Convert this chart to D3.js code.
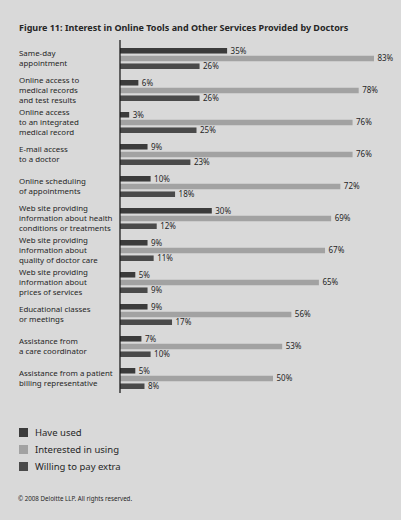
<!DOCTYPE html>
<html>
<head>
<meta charset="utf-8">
<script src="https://cdn.jsdelivr.net/npm/d3@7/dist/d3.min.js"></script>
<style>
  html, body { margin: 0; padding: 0; background: #d9d9d9; }
  svg { display: block; }
  text { font-family: "Noto Sans", "Open Sans", sans-serif; fill: #262626; }
</style>
</head>
<body>
<script>
// Survey categories (label lines) and the three response series, in percent
const categories = [
  ["Same-day", "appointment"],
  ["Online access to", "medical records", "and test results"],
  ["Online access", "to an integrated", "medical record"],
  ["E-mail access", "to a doctor"],
  ["Online scheduling", "of appointments"],
  ["Web site providing", "information about health", "conditions or treatments"],
  ["Web site providing", "information about", "quality of doctor care"],
  ["Web site providing", "information about", "prices of services"],
  ["Educational classes", "or meetings"],
  ["Assistance from", "a care coordinator"],
  ["Assistance from a patient", "billing representative"]
];
const haveUsed      = [35, 6, 3, 9, 10, 30, 9, 5, 9, 7, 5];
const interested    = [83, 78, 76, 76, 72, 69, 67, 65, 56, 53, 50];
const willingToPay  = [26, 26, 25, 23, 18, 12, 11, 9, 17, 10, 8];
const seriesNames   = ["Have used", "Interested in using", "Willing to pay extra"];
const seriesColors  = ["#3b3b3b", "#a2a2a2", "#4a4a4a"];

const W = 401, H = 520;
const svg = d3.select("body").append("svg").attr("width", W).attr("height", H);

svg.append("text")
  .attr("x", 19).attr("y", 31)
  .attr("font-size", 9).attr("font-weight", "bold")
  .text("Figure 11: Interest in Online Tools and Other Services Provided by Doctors");

const keys = categories.map((c, i) => i);
const values = [haveUsed, interested, willingToPay];

const x = d3.scaleLinear().domain([0, 100]).range([120, 426]);
const y = d3.scaleBand().domain(keys).range([42.5, 394.5]);
const ySub = d3.scaleBand().domain(d3.range(3)).range([0, 21]).paddingInner(2 / 7);

const groups = svg.append("g").selectAll("g")
  .data(keys).join("g")
  .attr("transform", k => `translate(0,${y(k) + y.bandwidth() / 2 - 10.5})`);

// Category labels, centred on each group of bars
groups.each(function (k) {
  const lines = categories[k];
  const lh = 10;
  const t = d3.select(this).append("text")
    .attr("x", 19)
    .attr("font-size", 7.9);
  lines.forEach((ln, j) => {
    t.append("tspan")
      .attr("x", 19)
      .attr("y", 10.5 - (lines.length - 1) * lh / 2 + j * lh + 2.8)
      .text(ln);
  });
});

// Bars and value labels
groups.each(function (k) {
  const g = d3.select(this);
  values.forEach((vals, s) => {
    g.append("rect")
      .attr("x", x(0))
      .attr("y", ySub(s))
      .attr("width", x(vals[k]) - x(0))
      .attr("height", ySub.bandwidth())
      .attr("fill", seriesColors[s]);
    g.append("text")
      .attr("x", x(vals[k]) + 3.5)
      .attr("y", ySub(s) + ySub.bandwidth() / 2 + 2.9)
      .attr("font-size", 8)
      .text(vals[k] + "%");
  });
});

// Vertical baseline
svg.append("line")
  .attr("x1", x(0)).attr("x2", x(0))
  .attr("y1", 40).attr("y2", 393)
  .attr("stroke", "#1e1e1e").attr("stroke-width", 1.3);

// Legend
const legend = svg.append("g").selectAll("g")
  .data(seriesNames).join("g")
  .attr("transform", (d, i) => `translate(19,${428 + i * 17})`);
legend.append("rect")
  .attr("width", 9).attr("height", 9)
  .attr("fill", (d, i) => seriesColors[i]);
legend.append("text")
  .attr("x", 16).attr("y", 8.2)
  .attr("font-size", 9.5)
  .text(d => d);

svg.append("text")
  .attr("x", 18).attr("y", 501)
  .attr("font-size", 6.2)
  .text("© 2008 Deloitte LLP. All rights reserved.");
</script>
</body>
</html>
